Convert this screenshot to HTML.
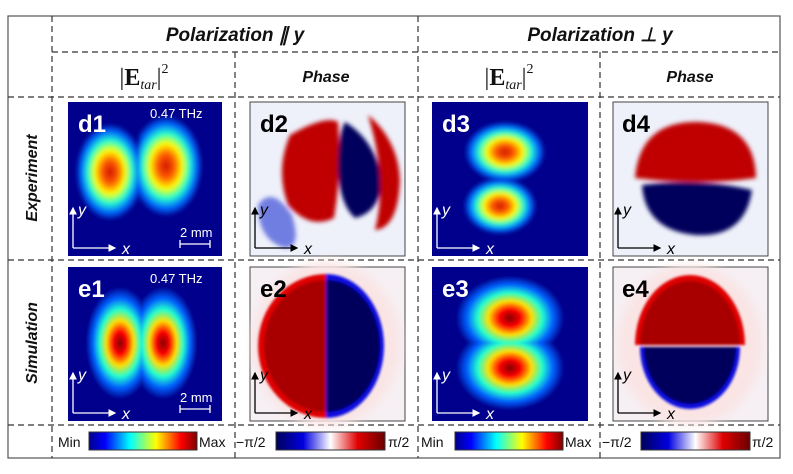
<!DOCTYPE html>
<html><head><meta charset="utf-8"><style>
body{margin:0;background:#fff;width:793px;height:474px;overflow:hidden;font-family:"Liberation Sans",sans-serif}
</style></head><body>
<svg width="793" height="474" viewBox="0 0 793 474" style="position:absolute;left:0;top:0">
<defs>
<radialGradient id="jet"><stop offset="0" stop-color="#800000"/><stop offset="0.2" stop-color="#ff0000"/><stop offset="0.4" stop-color="#ffe000"/><stop offset="0.6" stop-color="#20ffd0"/><stop offset="0.8" stop-color="#0060ff"/><stop offset="1" stop-color="#00008c"/></radialGradient>
<radialGradient id="jetx"><stop offset="0" stop-color="#d01000"/><stop offset="0.25" stop-color="#ff6000"/><stop offset="0.45" stop-color="#ffff00"/><stop offset="0.65" stop-color="#20ffd0"/><stop offset="0.85" stop-color="#0060ff"/><stop offset="1" stop-color="#00008c"/></radialGradient>
<linearGradient id="cbj"><stop offset="0" stop-color="#00008c"/><stop offset="0.15" stop-color="#0000ff"/><stop offset="0.38" stop-color="#00ffff"/><stop offset="0.62" stop-color="#ffff00"/><stop offset="0.85" stop-color="#ff0000"/><stop offset="1" stop-color="#800000"/></linearGradient>
<linearGradient id="cbp"><stop offset="0" stop-color="#00005a"/><stop offset="0.25" stop-color="#0000e0"/><stop offset="0.5" stop-color="#ffffff"/><stop offset="0.75" stop-color="#e00000"/><stop offset="1" stop-color="#6a0000"/></linearGradient>
<clipPath id="cL1"><rect x="68" y="100" width="71" height="160"/></clipPath>
<clipPath id="cR1"><rect x="139" y="100" width="83" height="160"/></clipPath>
<clipPath id="cL2"><rect x="68" y="267" width="74" height="154"/></clipPath>
<clipPath id="cR2"><rect x="142" y="267" width="80" height="154"/></clipPath>
<clipPath id="cT3"><rect x="432" y="100" width="156" height="80"/></clipPath>
<clipPath id="cB3"><rect x="432" y="180" width="156" height="78"/></clipPath>
<clipPath id="cT4"><rect x="432" y="267" width="156" height="76"/></clipPath>
<clipPath id="cB4"><rect x="432" y="343" width="156" height="78"/></clipPath>
<filter id="bl"><feGaussianBlur stdDeviation="2"/></filter>
<filter id="bl1"><feGaussianBlur stdDeviation="1.2"/></filter>
<filter id="bl4"><feGaussianBlur stdDeviation="5"/></filter>
<marker id="ah" markerWidth="6" markerHeight="6" refX="5" refY="3" orient="auto"><path d="M0,0L6,3L0,6z" fill="#fff"/></marker>
<marker id="ahk" markerWidth="6" markerHeight="6" refX="5" refY="3" orient="auto"><path d="M0,0L6,3L0,6z" fill="#000"/></marker>
</defs>
<g fill="none" stroke="#333" stroke-width="1.2">
<rect x="8" y="16" width="772" height="442" stroke="#555"/>
<g stroke-dasharray="6,4">
<line x1="52" y1="16" x2="52" y2="458"/>
<line x1="235" y1="52" x2="235" y2="458"/>
<line x1="418" y1="16" x2="418" y2="458"/>
<line x1="600" y1="52" x2="600" y2="458"/>
<line x1="52" y1="52" x2="780" y2="52"/>
<line x1="8" y1="97" x2="780" y2="97"/>
<line x1="8" y1="260" x2="780" y2="260"/>
<line x1="8" y1="425" x2="780" y2="425"/>
</g></g>
<g font-weight="bold" font-style="italic" font-size="19" text-anchor="middle" fill="#111">
<text x="235" y="41">Polarization ∥ y</text>
<text x="600" y="41">Polarization ⊥ y</text>
<text x="326" y="82" font-size="16">Phase</text>
<text x="690" y="82" font-size="16">Phase</text>
<text transform="translate(37,178) rotate(-90)" font-size="16">Experiment</text>
<text transform="translate(37,343) rotate(-90)" font-size="16">Simulation</text>
</g>
<g font-family="Liberation Serif" font-size="24" fill="#111" text-anchor="middle">
<text x="144" y="85"><tspan>|</tspan><tspan font-weight="bold">E</tspan><tspan font-style="italic" font-size="14" dy="4">tar</tspan><tspan dy="-4">|</tspan><tspan font-size="14" dy="-12">2</tspan></text>
<text x="509" y="85"><tspan>|</tspan><tspan font-weight="bold">E</tspan><tspan font-style="italic" font-size="14" dy="4">tar</tspan><tspan dy="-4">|</tspan><tspan font-size="14" dy="-12">2</tspan></text>
</g>
<g>
<rect x="68" y="102" width="154" height="154" fill="#00008c"/>
<g filter="url(#bl)"><ellipse cx="110" cy="172" rx="34" ry="48" fill="url(#jetx)" clip-path="url(#cL1)"/><ellipse cx="166" cy="166" rx="36" ry="50" fill="url(#jetx)" clip-path="url(#cR1)"/></g>
</g>
<g>
<rect x="68" y="267" width="154" height="154" fill="#00008c"/>
<g filter="url(#bl1)"><ellipse cx="120" cy="343" rx="34" ry="56" fill="url(#jet)" clip-path="url(#cL2)"/><ellipse cx="163" cy="343" rx="34" ry="56" fill="url(#jet)" clip-path="url(#cR2)"/></g>
</g>
<g>
<rect x="432" y="102" width="156" height="154" fill="#00008c"/>
<g filter="url(#bl)"><ellipse cx="505" cy="152" rx="40" ry="30" fill="url(#jetx)" clip-path="url(#cT3)"/><ellipse cx="500" cy="206" rx="36" ry="28" fill="url(#jetx)" clip-path="url(#cB3)"/></g>
</g>
<g>
<rect x="432" y="267" width="156" height="154" fill="#00008c"/>
<g filter="url(#bl1)"><ellipse cx="510" cy="318" rx="54" ry="42" fill="url(#jet)" clip-path="url(#cT4)"/><ellipse cx="510" cy="368" rx="54" ry="42" fill="url(#jet)" clip-path="url(#cB4)"/></g>
</g>
<g>
<rect x="250" y="102" width="155" height="154" fill="#eef0fa" stroke="#444"/>
<g filter="url(#bl)">
<path d="M258,205 Q272,185 292,215 Q302,248 285,248 Q258,240 258,205z" fill="#2030d0" opacity="0.6"/>
<path d="M290,135 Q325,115 338,122 Q342,170 334,218 Q310,230 288,205 Q275,170 290,135z" fill="#c00000"/>
<path d="M345,122 Q375,140 382,180 Q380,212 355,218 Q340,205 338,170 Q338,135 345,122z" fill="#00005c"/>
<path d="M368,115 Q398,140 400,180 Q398,228 375,230 Q388,180 368,115z" fill="#c00000"/>
</g>
</g>
<g>
<rect x="250" y="267" width="155" height="154" fill="#f6f0f4" stroke="#444"/>
<ellipse cx="326" cy="344" rx="74" ry="82" fill="#fae4e4" filter="url(#bl4)"/>
<g filter="url(#bl1)">
<path d="M326,274 A68,72 0 0 0 326,418z" fill="#e00000"/>
<path d="M326,280 A62,66 0 0 0 326,412z" fill="#a80000"/>
<path d="M326,274 A58,72 0 0 1 326,418z" fill="#1010e0"/>
<path d="M327,280 A53,66 0 0 1 327,412z" fill="#00005c"/>
</g>
</g>
<g>
<rect x="613" y="102" width="155" height="154" fill="#eef0fa" stroke="#444"/>
<g filter="url(#bl)">
<path d="M635,178 Q640,120 700,122 Q755,125 756,178 Q700,186 635,178z" fill="#c00000"/>
<path d="M642,185 Q700,178 752,190 Q745,238 695,235 Q645,230 642,185z" fill="#00005c"/>
</g>
</g>
<g>
<rect x="613" y="267" width="155" height="154" fill="#f6f0f4" stroke="#444"/>
<ellipse cx="690" cy="345" rx="72" ry="80" fill="#fae4e4" filter="url(#bl4)"/>
<g filter="url(#bl1)">
<path d="M635,345 A55,70 0 0 1 745,345z" fill="#e00000"/>
<path d="M640,345 A50,64 0 0 1 740,345z" fill="#a80000"/>
<path d="M640,347 A50,62 0 0 0 740,347z" fill="#1010e0"/>
<path d="M644,347 A46,57 0 0 0 736,347z" fill="#00005c"/>
</g>
</g>
<g font-weight="bold" font-size="24">
<text x="78" y="132" fill="#fff">d1</text>
<text x="260" y="132" fill="#000">d2</text>
<text x="442" y="132" fill="#fff">d3</text>
<text x="622" y="132" fill="#000">d4</text>
<text x="78" y="297" fill="#fff">e1</text>
<text x="260" y="297" fill="#000">e2</text>
<text x="442" y="297" fill="#fff">e3</text>
<text x="622" y="297" fill="#000">e4</text>
</g>
<g fill="#fff" font-size="13">
<text x="150" y="118">0.47 THz</text>
<text x="150" y="283">0.47 THz</text>
<text x="180" y="237">2 mm</text>
<text x="180" y="402">2 mm</text>
</g>
<g stroke="#fff" stroke-width="1.3"><path d="M180,244H210M180,240V248M210,240V248"/><path d="M180,409H210M180,405V413M210,405V413"/></g>
<g stroke-width="1.3" font-style="italic" font-size="16">
<g stroke="#fff" fill="#fff"><path d="M73,248V208" marker-end="url(#ah)"/><path d="M73,248H115" marker-end="url(#ah)"/><text x="78" y="215" stroke="none">y</text><text x="122" y="254" stroke="none">x</text>
<path d="M437,248V208" marker-end="url(#ah)"/><path d="M437,248H479" marker-end="url(#ah)"/><text x="442" y="215" stroke="none">y</text><text x="486" y="254" stroke="none">x</text>
<path d="M73,413V373" marker-end="url(#ah)"/><path d="M73,413H115" marker-end="url(#ah)"/><text x="78" y="380" stroke="none">y</text><text x="122" y="419" stroke="none">x</text>
<path d="M437,413V373" marker-end="url(#ah)"/><path d="M437,413H479" marker-end="url(#ah)"/><text x="442" y="380" stroke="none">y</text><text x="486" y="419" stroke="none">x</text></g>
<g stroke="#000" fill="#000"><path d="M255,248V208" marker-end="url(#ahk)"/><path d="M255,248H297" marker-end="url(#ahk)"/><text x="260" y="215" stroke="none">y</text><text x="304" y="254" stroke="none">x</text>
<path d="M618,248V208" marker-end="url(#ahk)"/><path d="M618,248H660" marker-end="url(#ahk)"/><text x="623" y="215" stroke="none">y</text><text x="667" y="254" stroke="none">x</text>
<path d="M255,413V373" marker-end="url(#ahk)"/><path d="M255,413H297" marker-end="url(#ahk)"/><text x="260" y="380" stroke="none">y</text><text x="304" y="419" stroke="none">x</text>
<path d="M618,413V373" marker-end="url(#ahk)"/><path d="M618,413H660" marker-end="url(#ahk)"/><text x="623" y="380" stroke="none">y</text><text x="667" y="419" stroke="none">x</text></g>
</g>
<g font-size="14" fill="#111">
<text x="58" y="447">Min</text>
<rect x="89" y="432" width="108" height="18" fill="url(#cbj)" stroke="#333"/>
<text x="199" y="447">Max</text>
<text x="236" y="447">−π/2</text>
<rect x="276" y="432" width="109" height="18" fill="url(#cbp)" stroke="#333"/>
<text x="388" y="447">π/2</text>
<text x="421" y="447">Min</text>
<rect x="455" y="432" width="108" height="18" fill="url(#cbj)" stroke="#333"/>
<text x="565" y="447">Max</text>
<text x="602" y="447">−π/2</text>
<rect x="641" y="432" width="109" height="18" fill="url(#cbp)" stroke="#333"/>
<text x="752" y="447">π/2</text>
</g>
</svg>
</body></html>
